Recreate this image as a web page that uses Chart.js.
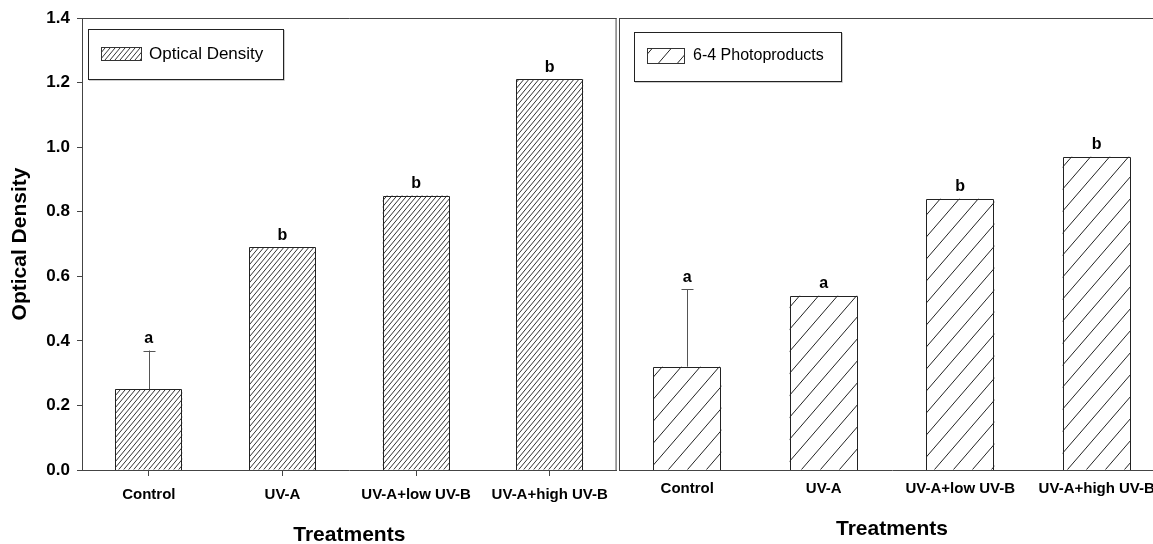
<!DOCTYPE html>
<html><head><meta charset="utf-8">
<script src="https://cdn.jsdelivr.net/npm/chart.js@4"></script>
<style>
html,body{margin:0;padding:0;background:#fff;overflow:hidden;width:1153px;height:544px;}
#c1{position:absolute;left:0;top:0;}
#c2{position:absolute;left:618px;top:0;}
</style></head><body>
<canvas id="c1" width="618" height="544"></canvas>
<canvas id="c2" width="547" height="544"></canvas>
<script>
// ---- data ----
const categories = ['Control', 'UV-A', 'UV-A+low UV-B', 'UV-A+high UV-B'];
const opticalDensity = [0.25, 0.69, 0.85, 1.21];
const opticalDensityErr = [0.12, null, null, null];
const opticalDensityLetters = ['a', 'b', 'b', 'b'];
const photoproducts = [0.32, 0.54, 0.84, 0.97];
const photoproductsErr = [0.24, null, null, null];
const photoproductsLetters = ['a', 'a', 'b', 'b'];
const yMin = 0, yMax = 1.4, yStep = 0.2;
const leftLabel = 'Optical Density';
const rightLabel = '6-4 Photoproducts';
const xTitle = 'Treatments';
const yTitle = 'Optical Density';

const FONT = '"Liberation Sans", Arial, Helvetica, sans-serif';
const AXIS = '#444';

function hatch(w, h, color, lw) {
  const c = document.createElement('canvas');
  c.width = w; c.height = h;
  const g = c.getContext('2d');
  g.fillStyle = '#fff'; g.fillRect(0, 0, w, h);
  g.strokeStyle = color; g.lineWidth = lw;
  for (let k = -1; k <= 1; k++) {
    g.beginPath();
    g.moveTo(k * w - w, 2 * h);
    g.lineTo(k * w + 2 * w, -h);
    g.stroke();
  }
  return g.createPattern(c, 'repeat');
}

const decor = {
  id: 'decor',
  afterDatasetsDraw(chart, args, opts) {
    const ctx = chart.ctx;
    const {left, top, right, bottom} = chart.chartArea;
    const meta = chart.getDatasetMeta(0);
    const ys = chart.scales.y;
    const ds = chart.data.datasets[0];
    ctx.save();
    ctx.strokeStyle = AXIS; ctx.lineWidth = 1;
    ctx.beginPath();
    ctx.moveTo(left, top + 0.5); ctx.lineTo(right, top + 0.5);
    if (opts.rightBorder) { ctx.moveTo(right - 0.5, top); ctx.lineTo(right - 0.5, bottom); }
    ctx.stroke();
    // crisp bar outlines
    ctx.strokeStyle = '#222';
    meta.data.forEach((bar) => {
      const x0 = Math.round(bar.x - bar.width / 2) + 0.5;
      const x1 = Math.round(bar.x + bar.width / 2) - 0.5;
      const y0 = Math.round(bar.y) + 0.5;
      const yb = Math.round(bar.base);
      ctx.beginPath();
      ctx.moveTo(x0, yb); ctx.lineTo(x0, y0); ctx.lineTo(x1, y0); ctx.lineTo(x1, yb);
      ctx.stroke();
    });
    // error bars + letters
    ctx.fillStyle = '#000';
    ctx.font = 'bold 16px ' + FONT;
    ctx.textAlign = 'center'; ctx.textBaseline = 'middle';
    meta.data.forEach((bar, i) => {
      let topY = bar.y;
      const err = opts.errors[i];
      if (err) {
        const ey = ys.getPixelForValue(ds.data[i] + err);
        const x = Math.round(bar.x) + 0.5;
        ctx.strokeStyle = '#555';
        ctx.beginPath();
        ctx.moveTo(x, bar.y); ctx.lineTo(x, ey);
        ctx.moveTo(x - 6, Math.round(ey) + 0.5); ctx.lineTo(x + 6, Math.round(ey) + 0.5);
        ctx.stroke();
        topY = ey;
      }
      ctx.fillText(opts.letters[i], bar.x, topY - 12);
    });
    // legend box
    const L = opts.legend;
    const bx = left + L.dx, by = top + L.dy;
    ctx.fillStyle = '#fff';
    ctx.fillRect(bx, by, L.w, L.h);
    ctx.strokeStyle = '#ccc';
    ctx.beginPath();
    ctx.moveTo(bx + 1, by + L.h + 1.5); ctx.lineTo(bx + L.w + 1.5, by + L.h + 1.5); ctx.lineTo(bx + L.w + 1.5, by + 1);
    ctx.stroke();
    ctx.strokeStyle = '#222';
    ctx.strokeRect(bx + 0.5, by + 0.5, L.w, L.h);
    ctx.fillStyle = ds.backgroundColor;
    ctx.fillRect(bx + L.sx, by + L.sy, L.sw, L.sh);
    ctx.strokeStyle = '#333';
    ctx.strokeRect(bx + L.sx + 0.5, by + L.sy + 0.5, L.sw, L.sh);
    ctx.fillStyle = '#000';
    ctx.font = L.fontSize + 'px ' + FONT;
    ctx.textAlign = 'left'; ctx.textBaseline = 'middle';
    ctx.fillText(ds.label, bx + L.tx, by + L.ty);
    ctx.restore();
  }
};

function makeChart(id, cfg) {
  return new Chart(document.getElementById(id), {
    type: 'bar',
    data: {
      labels: categories,
      datasets: [{
        label: cfg.label,
        data: cfg.data,
        backgroundColor: cfg.pattern,
        borderColor: '#222',
        borderWidth: 0,
        categoryPercentage: 1,
        barPercentage: 0.5
      }]
    },
    options: {
      responsive: false,
      animation: false,
      devicePixelRatio: 1,
      layout: {padding: {top: 18, right: cfg.padRight, left: 0, bottom: 0}},
      plugins: {
        legend: {display: false},
        tooltip: {enabled: false},
        decor: cfg.decor
      },
      scales: {
        x: {
          type: 'category',
          grid: {display: true, drawOnChartArea: false, drawTicks: cfg.xTicks, tickLength: 6, offset: false, color: AXIS},
          border: {display: true, color: AXIS},
          ticks: {color: '#000', font: {family: FONT, size: 15, weight: 'bold'}, padding: 10, maxRotation: 0, autoSkip: false},
          title: {display: true, text: xTitle, color: '#000', font: {family: FONT, size: 21, weight: 'bold', lineHeight: 0.8}, padding: {top: 0, bottom: cfg.xTitlePad}},
          afterFit(s) { s.height = 74; }
        },
        y: {
          min: yMin, max: yMax,
          grid: {display: true, drawOnChartArea: false, drawTicks: cfg.yTicks, tickLength: 5, color: AXIS},
          border: {display: true, color: AXIS},
          ticks: {display: cfg.yTicks, stepSize: yStep, color: '#000', padding: 7, font: {family: FONT, size: 17, weight: 'bold'}, callback: v => Number(v).toFixed(1)},
          title: {display: cfg.yTicks, text: yTitle, color: '#000', font: {family: FONT, size: 21, weight: 'bold', lineHeight: 1}, padding: {top: 10, bottom: 0}},
          afterFit(s) { s.width = cfg.yWidth; }
        }
      }
    },
    plugins: [decor]
  });
}

makeChart('c1', {
  label: leftLabel,
  data: opticalDensity,
  pattern: hatch(5, 6, '#333', 1),
  padRight: 1,
  xTicks: true,
  yTicks: true,
  yWidth: 82,
  xTitlePad: 0,
  decor: {
    rightBorder: true,
    errors: opticalDensityErr,
    letters: opticalDensityLetters,
    legend: {dx: 6, dy: 11, w: 195, h: 50, sx: 13, sy: 18, sw: 40, sh: 13, tx: 61, ty: 25, fontSize: 17}
  }
});

makeChart('c2', {
  label: rightLabel,
  data: photoproducts,
  pattern: hatch(19, 22, '#222', 1),
  padRight: 0,
  xTicks: false,
  yTicks: false,
  yWidth: 1,
  xTitlePad: 6,
  decor: {
    rightBorder: false,
    errors: photoproductsErr,
    letters: photoproductsLetters,
    legend: {dx: 15, dy: 14, w: 207, h: 49, sx: 13, sy: 16, sw: 37, sh: 15, tx: 59, ty: 24, fontSize: 16}
  }
});
</script>
</body></html>
